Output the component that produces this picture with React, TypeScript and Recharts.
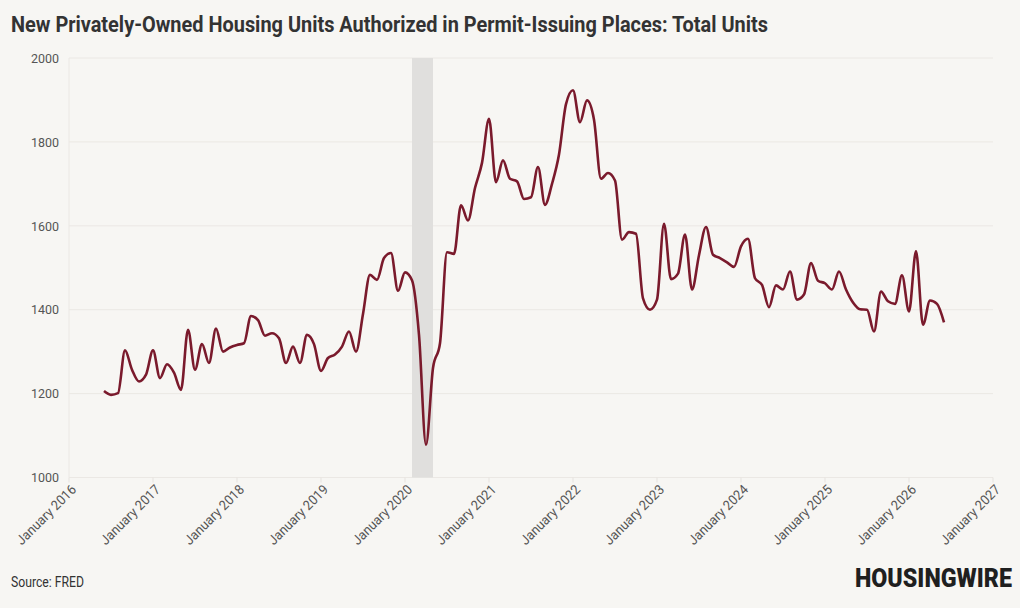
import React from "react";
import {
  LineChart,
  Line,
  XAxis,
  YAxis,
  CartesianGrid,
  ReferenceArea,
} from "recharts";

// Month index 0 = January 2016
const START_MONTH = 5; // June 2016
const permits: number[] = [
  1206, 1197, 1201, 1303, 1257, 1229, 1245, 1303, 1237, 1270, 1250, 1209,
  1352, 1257, 1318, 1273, 1355, 1300, 1310, 1316, 1320, 1385, 1375, 1338,
  1344, 1332, 1273, 1312, 1273, 1340, 1318, 1254, 1285, 1293, 1312, 1348,
  1300, 1390, 1483, 1471, 1523, 1535, 1445, 1489, 1470, 1340, 1078, 1261,
  1320, 1537, 1533, 1649, 1613, 1690, 1750, 1855, 1704, 1756, 1712, 1706,
  1664, 1668, 1740, 1650, 1700, 1770, 1890, 1923, 1847, 1899, 1853, 1712,
  1726, 1708, 1567, 1585, 1581, 1427, 1400, 1424, 1605, 1473, 1486, 1579,
  1448, 1530, 1597, 1531, 1523, 1513, 1502, 1551, 1569, 1475, 1459, 1406,
  1458, 1448, 1491, 1424, 1436, 1511, 1469, 1463, 1448, 1491, 1448, 1417,
  1401, 1400, 1348, 1443, 1420, 1414, 1482, 1396, 1539, 1364, 1422, 1414,
  1370,
];
const xTicks: number[] = [0, 12, 24, 36, 48, 60, 72, 84, 96, 108, 120, 132];
const yTicks: number[] = [1000, 1200, 1400, 1600, 1800, 2000];
const BASE_YEAR = 2016;
const recessionStart = 49; // Feb 2020
const recessionEnd = 52; // May 2020

const data = permits.map((v, i) => ({ month: START_MONTH + i, value: v }));

const fmtMonth = (m: number) => `January ${BASE_YEAR + Math.round(m / 12)}`;

const XTick = (props: any) => {
  const { x, y, payload } = props;
  return (
    <g transform={`translate(${x + 8},${y + 6}) rotate(-45)`}>
      <text
        x={0}
        y={0}
        textAnchor="end"
        fill="#555"
        fontSize={13.5}
        fontFamily="Roboto, sans-serif"
        textLength={78}
        lengthAdjust="spacingAndGlyphs"
      >
        {fmtMonth(payload.value)}
      </text>
    </g>
  );
};

const YTick = (props: any) => {
  const { x, y, payload } = props;
  return (
    <text
      x={x}
      y={y}
      dy="0.35em"
      textAnchor="end"
      fill="#555"
      fontSize={13.5}
      fontFamily="Roboto, sans-serif"
      textLength={28}
      lengthAdjust="spacingAndGlyphs"
    >
      {payload.value}
    </text>
  );
};

export default function App() {
  return (
    <div
      style={{
        position: "absolute",
        top: 0,
        left: 0,
        width: 1020,
        height: 608,
        background: "#f7f6f3",
        overflow: "hidden",
      }}
    >
      <svg
        width={1020}
        height={608}
        style={{ position: "absolute", top: 0, left: 0 }}
      >
        <text
          x={11}
          y={32}
          fontSize={22}
          fontWeight={700}
          fill="#333"
          fontFamily="Roboto, sans-serif"
          textLength={757}
          lengthAdjust="spacingAndGlyphs"
        >
          New Privately-Owned Housing Units Authorized in Permit-Issuing Places: Total Units
        </text>
        <text
          x={11}
          y={587}
          fontSize={14.5}
          fill="#333"
          fontFamily="Roboto, sans-serif"
          textLength={73}
          lengthAdjust="spacingAndGlyphs"
        >
          Source: FRED
        </text>
        <text
          x={0}
          y={0}
          transform="translate(855,587) scale(0.93,1)"
          fontSize={25}
          fontWeight={900}
          fill="#1f1f1f"
          fontFamily="Roboto, sans-serif"
        >
          HOUSINGWIRE
        </text>
      </svg>
      <div style={{ position: "absolute", top: 0, left: 0 }}>
        <LineChart
          width={1020}
          height={608}
          data={data}
          margin={{ top: 58, right: 27, bottom: 100.5, left: 9 }}
        >
          <CartesianGrid
            stroke="#ebe8e4"
            strokeWidth={1}
            vertical={false}
          />
          <ReferenceArea
            x1={recessionStart}
            x2={recessionEnd}
            y1={1000}
            y2={2000}
            fill="#e0dfdd"
            fillOpacity={1}
            stroke="none"
            ifOverflow="extendDomain"
          />
          <XAxis
            dataKey="month"
            type="number"
            domain={[0, 132]}
            ticks={xTicks}
            interval={0}
            height={30}
            axisLine={false}
            tickLine={{ stroke: "#e6e3df" }}
            tickSize={5}
            tick={<XTick />}
          />
          <YAxis
            domain={[1000, 2000]}
            ticks={yTicks}
            width={60}
            interval={0}
            axisLine={{ stroke: "#ebe8e4" }}
            tickLine={false}
            tickMargin={10}
            tickSize={0}
            tick={<YTick />}
          />
          <Line
            type="monotone"
            dataKey="value"
            stroke="#7a1a2c"
            strokeWidth={2.6}
            dot={false}
            isAnimationActive={false}
          />
        </LineChart>
      </div>
    </div>
  );
}
